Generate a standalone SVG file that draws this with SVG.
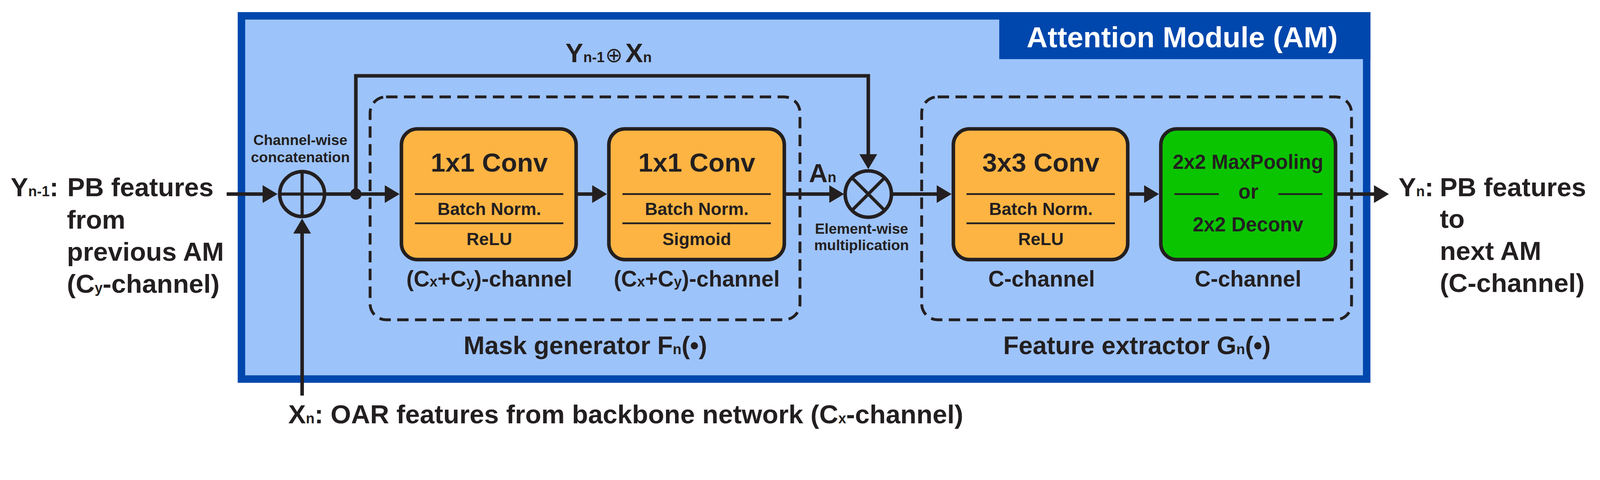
<svg xmlns="http://www.w3.org/2000/svg" width="4483" height="1228" viewBox="0 0 4483 1228">
<style>
.t{font-family:"Liberation Sans",Arial,Helvetica,sans-serif;font-weight:bold;fill:#231f20}
.f74{font-size:74px}
.f62{font-size:62px}
.f49{font-size:49px}
.f56{font-size:56px}
.f41{font-size:41px}
.f71{font-size:71px}
.sub{font-size:40px}
.mid{text-anchor:middle}
.box{stroke:#231f20;stroke-width:10}
.org{fill:#fdb443}
.grn{fill:#0bc400}
.sep{stroke:#231f20;stroke-width:5}
.dash{fill:none;stroke:#231f20;stroke-width:8;stroke-dasharray:32 18}
.con{fill:none;stroke:#231f20;stroke-width:10;marker-end:url(#ah)}
.op{fill:none;stroke:#231f20;stroke-width:10}
.opl{stroke:#231f20;stroke-width:9}
@media (max-width: 4470px) {
  #diagram{transform:scale(0.9110)}
}
</style>
<defs>
<marker id="ah" viewBox="0 0 42 50" refX="2" refY="25" markerWidth="42" markerHeight="50" markerUnits="userSpaceOnUse" orient="auto">
<path d="M0,0 L42,25 L0,50 Z" fill="#231f20"/>
</marker>
</defs>
<rect width="4483" height="1228" fill="#ffffff"/>
<g id="diagram">

<g id="attention-module">
<rect x="678.5" y="44.5" width="3162" height="1020" fill="#9dc3fb" stroke="#0047ad" stroke-width="21"/>
<rect x="2808" y="34" width="1043" height="132" fill="#0047ad"/>
<text class="t mid" x="3322" y="133" style="font-size:82px;fill:#ffffff">Attention Module (AM)</text>
</g>

<g id="mask-generator">
<rect class="dash" x="1040" y="272" width="1208" height="626" rx="45"/>
<text class="t f71 mid" x="1645" y="994">Mask generator F<tspan class="sub">n</tspan>(•)</text>
</g>

<g id="feature-extractor">
<rect class="dash" x="2590" y="272" width="1208" height="626" rx="45"/>
<text class="t f71 mid" x="3195" y="994">Feature extractor G<tspan class="sub">n</tspan>(•)</text>
</g>

<g id="conv1">
<rect class="box org" x="1128" y="362" width="491" height="367" rx="45"/>
<text class="t f74 mid" x="1375" y="482">1x1 Conv</text>
<line class="sep" x1="1166" y1="545" x2="1583" y2="545"/>
<text class="t f49 mid" x="1375" y="604">Batch Norm.</text>
<line class="sep" x1="1166" y1="627" x2="1583" y2="627"/>
<text class="t f49 mid" x="1375" y="688">ReLU</text>
<text class="t f62 mid" x="1375" y="805">(C<tspan class="sub">x</tspan>+C<tspan class="sub">y</tspan>)-channel</text>
</g>

<g id="conv2">
<rect class="box org" x="1711" y="362" width="493" height="367" rx="45"/>
<text class="t f74 mid" x="1958" y="482">1x1 Conv</text>
<line class="sep" x1="1749" y1="545" x2="2166" y2="545"/>
<text class="t f49 mid" x="1958" y="604">Batch Norm.</text>
<line class="sep" x1="1749" y1="627" x2="2166" y2="627"/>
<text class="t f49 mid" x="1958" y="688">Sigmoid</text>
<text class="t f62 mid" x="1958" y="805">(C<tspan class="sub">x</tspan>+C<tspan class="sub">y</tspan>)-channel</text>
</g>

<g id="conv3">
<rect class="box org" x="2679" y="362" width="490" height="367" rx="45"/>
<text class="t f74 mid" x="2925" y="482">3x3 Conv</text>
<line class="sep" x1="2716" y1="545" x2="3133" y2="545"/>
<text class="t f49 mid" x="2925" y="604">Batch Norm.</text>
<line class="sep" x1="2716" y1="627" x2="3133" y2="627"/>
<text class="t f49 mid" x="2925" y="688">ReLU</text>
<text class="t f62 mid" x="2927" y="805">C-channel</text>
</g>

<g id="pool-deconv">
<rect class="box grn" x="3262" y="362" width="491" height="367" rx="45"/>
<text class="t f56 mid" x="3507" y="474">2x2 MaxPooling</text>
<line class="sep" x1="3300" y1="545" x2="3425" y2="545"/>
<text class="t f56 mid" x="3508" y="558">or</text>
<line class="sep" x1="3592" y1="545" x2="3716" y2="545"/>
<text class="t f56 mid" x="3507" y="650">2x2 Deconv</text>
<text class="t f62 mid" x="3507" y="805">C-channel</text>
</g>

<g id="concat">
<circle class="op" cx="849" cy="545" r="63"/>
<line class="opl" x1="786" y1="545" x2="912" y2="545"/>
<line class="opl" x1="849" y1="482" x2="849" y2="608"/>
<text class="t f41 mid" x="844" y="407">Channel-wise</text>
<text class="t f41 mid" x="844" y="456">concatenation</text>
</g>

<g id="multiply">
<circle class="op" cx="2440" cy="545" r="65"/>
<line class="opl" x1="2394" y1="499" x2="2486" y2="591"/>
<line class="opl" x1="2394" y1="591" x2="2486" y2="499"/>
<text class="t f41 mid" x="2421" y="656">Element-wise</text>
<text class="t f41 mid" x="2421" y="702">multiplication</text>
</g>

<g id="junction">
<circle cx="1000" cy="545" r="16" fill="#231f20"/>
</g>

<g id="connectors">
<path class="con" d="M637,545 H740"/>
<path class="con" d="M912,545 H1083"/>
<path class="con" d="M849,1111 V654"/>
<path class="con" d="M1000,545 V213 H2440 V435"/>
<path class="con" d="M1619,545 H1666"/>
<path class="con" d="M2204,545 H2332"/>
<path class="con" d="M2505,545 H2634"/>
<path class="con" d="M3169,545 H3217"/>
<path class="con" d="M3753,545 H3863"/>
<text class="t f74" x="1589" y="174" style="font-size:75px">Y<tspan class="sub">n-1</tspan><tspan x="1701" style="font-family:'DejaVu Sans',sans-serif;font-weight:normal;font-size:58px">⊕</tspan><tspan x="1757">X</tspan><tspan class="sub">n</tspan></text>
<text class="t f74" x="2273" y="512" style="font-size:73px">A<tspan class="sub">n</tspan></text>
</g>

<g id="input-prev">
<text class="t f74" x="30" y="551">Y<tspan class="sub">n-1</tspan>:<tspan x="189">PB features</tspan></text>
<text class="t f74" x="188" y="642">from</text>
<text class="t f74" x="188" y="732">previous AM</text>
<text class="t f74" x="188" y="822">(C<tspan class="sub">y</tspan>-channel)</text>
</g>

<g id="input-backbone">
<text class="t f74" x="810" y="1189">X<tspan class="sub">n</tspan>: OAR features from backbone network (C<tspan class="sub">x</tspan>-channel)</text>
</g>

<g id="output-next">
<text class="t f74" x="3930" y="551">Y<tspan class="sub">n</tspan>:<tspan x="4046">PB features</tspan></text>
<text class="t f74" x="4046" y="640">to</text>
<text class="t f74" x="4046" y="730">next AM</text>
<text class="t f74" x="4046" y="820">(C-channel)</text>
</g>
</g>
</svg>
